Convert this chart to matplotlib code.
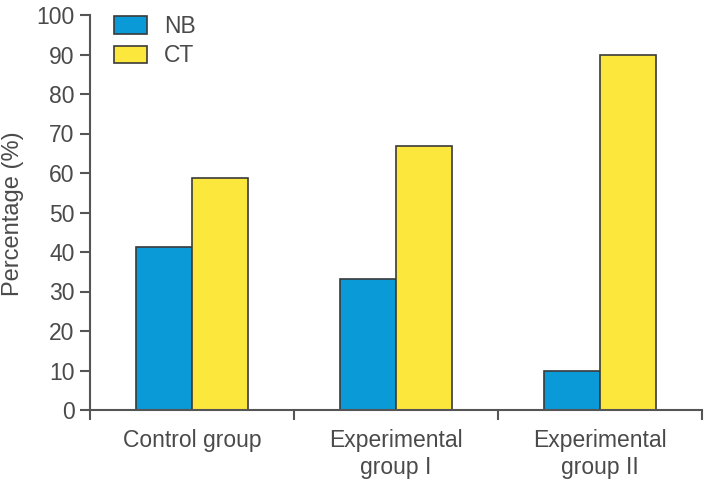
import numpy as np
import matplotlib
matplotlib.use("Agg")
import matplotlib.pyplot as plt

plt.rcParams['font.family'] = ['Liberation Sans', 'DejaVu Sans']

groups = ['Control group', 'Experimental\ngroup I', 'Experimental\ngroup II']
nb = [41.3, 33.2, 10.0]
ct = [58.7, 66.8, 90.0]
series_names = ['NB', 'CT']

txt = '#4a4a4a'
edge = '#3a3a3a'
fs = 16.5

fig = plt.figure(figsize=(7.04, 4.8), dpi=100)
ax = fig.add_axes([90/704, 70/480, 612/704, 395/480])

x = np.arange(len(groups))
w = 0.274
ax.bar(x - w/2, nb, w, color='#0a9ad8', edgecolor=edge, linewidth=1.2, label=series_names[0])
ax.bar(x + w/2, ct, w, color='#fce83c', edgecolor=edge, linewidth=1.2, label=series_names[1])

ax.set_xlim(-0.5, 2.5)
ax.set_ylim(0, 100)
ax.set_yticks(np.arange(0, 101, 10))

# boundary ticks on x, group names sit between them
ax.set_xticks([-0.5, 0.5, 1.5, 2.5])
ax.set_xticklabels([])
ax.set_xticks(x, minor=True)
ax.set_xticklabels(groups, minor=True, linespacing=1.2)
ax.tick_params(axis='x', which='minor', length=0, pad=14, labelsize=fs, labelcolor=txt)
ax.tick_params(axis='x', which='major', length=7, width=1.5, color='#555555')
ax.tick_params(axis='y', length=7, width=1.5, color='#555555', labelsize=fs, labelcolor=txt, pad=4)

for s in ['top', 'right']:
    ax.spines[s].set_visible(False)
for s in ['left', 'bottom']:
    ax.spines[s].set_color('#555555')
    ax.spines[s].set_linewidth(1.5)

ax.set_ylabel('Percentage (%)', fontsize=17, color=txt)
ax.yaxis.set_label_coords(-0.108, 0.496)

ax.legend(loc='upper left', bbox_to_anchor=(0.039, 1.0), frameon=False,
          borderpad=0, borderaxespad=0, handlelength=1.45, handleheight=0.8,
          handletextpad=0.75, labelspacing=0.28, fontsize=fs, labelcolor=txt)

fig.savefig('out.png', dpi=100)
